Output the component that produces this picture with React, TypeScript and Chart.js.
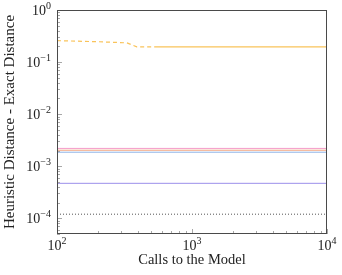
import React, { useEffect, useRef } from "react";
import { Chart, registerables } from "chart.js";

Chart.register(...registerables);

const xRange = [100, 10000];
const yRange = [5e-5, 1];
const xTickExponents = [2, 3, 4];
const yTickExponents = [0, -1, -2, -3, -4];

const flatX = [100, 10000];
const pinkY = [2.2e-3, 2.2e-3];
const orangeY = [2.03e-3, 2.03e-3];
const blueY = [1.86e-3, 1.86e-3];
const purpleY = [4.7e-4, 4.7e-4];
const dottedY = [1.2e-4, 1.2e-4];

const yellowX = [100, 200, 330, 390, 560, 10000];
const yellowY = [0.258, 0.246, 0.234, 0.196, 0.196, 0.196];

const xTitle = "Calls to the Model";
const yTitle = "Heuristic Distance - Exact Distance";

const FONT = "'Liberation Serif', 'DejaVu Serif', serif";

function pts(xs: number[], ys: number[]) {
  return xs.map((x, i) => ({ x, y: ys[i] }));
}

function drawPow(ctx: CanvasRenderingContext2D, exp: number, x: number, y: number, align: "right" | "center") {
  const base = "10";
  const e = exp < 0 ? "\u2212" + Math.abs(exp) : String(exp);
  ctx.font = `14px ${FONT}`;
  const bw = ctx.measureText(base).width;
  ctx.font = `10px ${FONT}`;
  const ew = ctx.measureText(e).width;
  const total = bw + ew;
  let start = align === "right" ? x - total : x - total / 2;
  ctx.textAlign = "left";
  ctx.textBaseline = "alphabetic";
  ctx.font = `14px ${FONT}`;
  ctx.fillText(base, start, y);
  ctx.font = `10px ${FONT}`;
  ctx.fillText(e, start + bw, y - 6);
}

const axesPlugin = {
  id: "pgfAxes",
  afterDraw(chart: any) {
    const ctx: CanvasRenderingContext2D = chart.ctx;
    const { left, right, top, bottom } = chart.chartArea;
    const xs = chart.scales.x;
    const ys = chart.scales.y;
    ctx.save();
    // ticks
    ctx.strokeStyle = "#a8a8a8";
    ctx.lineWidth = 1;
    for (let k = -6; k <= 1; k++) {
      for (let m = 1; m <= 9; m++) {
        const v = m * Math.pow(10, k);
        if (v < yRange[0] * 0.999 || v > yRange[1] * 1.001) continue;
        const p = Math.round(ys.getPixelForValue(v)) + 0.5;
        const len = m === 1 ? 5 : 3;
        ctx.beginPath();
        ctx.moveTo(left, p);
        ctx.lineTo(left + len, p);
        ctx.stroke();
      }
    }
    for (let k = 1; k <= 5; k++) {
      for (let m = 1; m <= 9; m++) {
        const v = m * Math.pow(10, k);
        if (v < xRange[0] * 0.999 || v > xRange[1] * 1.001) continue;
        const p = Math.round(xs.getPixelForValue(v)) + 0.5;
        const len = m === 1 ? 5 : 3;
        ctx.beginPath();
        ctx.moveTo(p, bottom);
        ctx.lineTo(p, bottom - len);
        ctx.stroke();
      }
    }
    // frame
    ctx.strokeStyle = "#4a4a4a";
    ctx.lineWidth = 1;
    ctx.strokeRect(left + 0.5, top + 0.5, right - left - 1, bottom - top - 1);
    // labels
    ctx.fillStyle = "#222";
    for (const e of yTickExponents) {
      const p = ys.getPixelForValue(Math.pow(10, e));
      drawPow(ctx, e, left - 6, p + 5, "right");
    }
    for (const e of xTickExponents) {
      const p = xs.getPixelForValue(Math.pow(10, e));
      drawPow(ctx, e, p, bottom + 16, "center");
    }
    // titles
    ctx.textAlign = "center";
    ctx.textBaseline = "middle";
    ctx.font = `14.5px ${FONT}`;
    ctx.fillText(xTitle, (left + right) / 2, bottom + 26);
    ctx.font = `15px ${FONT}`;
    ctx.translate(10, (top + bottom) / 2);
    ctx.rotate(-Math.PI / 2);
    ctx.fillText(yTitle, 0, 0);
    ctx.restore();
  },
};

export default function App() {
  const ref = useRef<HTMLCanvasElement | null>(null);
  useEffect(() => {
    if (!ref.current) return;
    const line = (data: any[], color: string, extra: any = {}) => ({
      data,
      borderColor: color,
      borderWidth: 1,
      pointRadius: 0,
      tension: 0,
      fill: false,
      ...extra,
    });
    const chart = new Chart(ref.current, {
      type: "line",
      data: {
        datasets: [
          line(pts(flatX, dottedY), "#555555", { borderDash: [1, 2] }),
          line(pts(flatX, purpleY), "#9b8fea"),
          line(pts(flatX, blueY), "#8fb3e6"),
          line(pts(flatX, orangeY), "#f2a27c"),
          line(pts(flatX, pinkY), "#f49cc8"),
          line(pts(yellowX, yellowY), "#f9c35a", {
            borderWidth: 1.2,
            segment: {
              borderDash: (c: any) => (c.p0.parsed.x < 550 ? [4, 3] : undefined),
            },
          }),
        ],
      },
      options: {
        responsive: false,
        animation: false,
        layout: { padding: { left: 57, right: 15, top: 10, bottom: 41 } },
        plugins: { legend: { display: false }, tooltip: { enabled: false } },
        scales: {
          x: { type: "logarithmic", min: xRange[0], max: xRange[1], display: false },
          y: { type: "logarithmic", min: yRange[0], max: yRange[1], display: false },
        },
      },
      plugins: [axesPlugin],
    } as any);
    return () => chart.destroy();
  }, []);
  return (
    <div style={{ position: "absolute", left: 0, top: 0, width: 342, height: 275, background: "#fff" }}>
      <canvas ref={ref} width={342} height={275} style={{ width: 342, height: 275 }} />
    </div>
  );
}
